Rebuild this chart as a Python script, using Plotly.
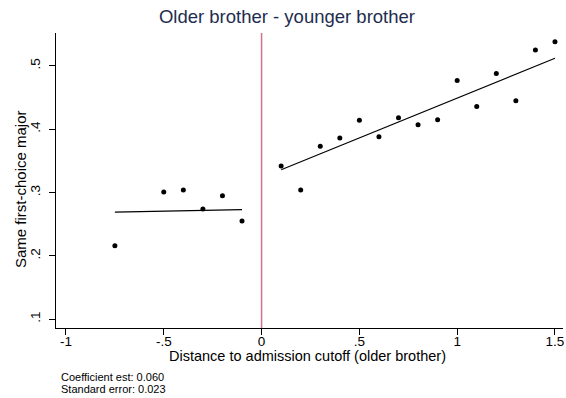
import plotly.graph_objects as go

# binned means
bin_x_left = [-0.75, -0.5, -0.4, -0.3, -0.2, -0.1]
bin_y_left = [0.216, 0.301, 0.304, 0.274, 0.295, 0.255]
bin_x_right = [0.1, 0.2, 0.3, 0.4, 0.5, 0.6, 0.7, 0.8, 0.9, 1.0, 1.1, 1.2, 1.3, 1.4, 1.5]
bin_y_right = [0.342, 0.304, 0.373, 0.386, 0.414, 0.388, 0.418, 0.407, 0.415,
               0.477, 0.436, 0.488, 0.445, 0.525, 0.538]

# fitted lines on each side of the cutoff
fit_x_left = [-0.75, -0.1]
fit_y_left = [0.269, 0.273]
fit_x_right = [0.1, 1.5]
fit_y_right = [0.336, 0.512]

x_ticks = [-1, -0.5, 0, 0.5, 1, 1.5]
x_labels = ["-1", "-.5", "0", ".5", "1", "1.5"]
y_ticks = [0.1, 0.2, 0.3, 0.4, 0.5]
y_labels = [".1", ".2", ".3", ".4", ".5"]

notes = ["Coefficient est: 0.060", "Standard error: 0.023"]

fig = go.Figure()
for bx, by in [(bin_x_left, bin_y_left), (bin_x_right, bin_y_right)]:
    fig.add_trace(go.Scatter(x=bx, y=by, mode="markers", cliponaxis=False,
                             marker=dict(color="black", size=5), showlegend=False))
for fx, fy in [(fit_x_left, fit_y_left), (fit_x_right, fit_y_right)]:
    fig.add_trace(go.Scatter(x=fx, y=fy, mode="lines",
                             line=dict(color="black", width=1.1), showlegend=False))

fig.add_shape(type="line", x0=0, x1=0, y0=0, y1=1, xref="x", yref="paper",
              line=dict(color="#d8708a", width=1.5))

fig.update_layout(
    width=566, height=398,
    margin=dict(l=56, r=3, t=33, b=70),
    plot_bgcolor="white", paper_bgcolor="white",
    font=dict(family="Liberation Sans, Arial, sans-serif", color="black", size=13),
    title=dict(text="Older brother - younger brother", x=0.507, xanchor="center",
               y=0.958, yanchor="middle", automargin=False,
               font=dict(size=18.5, color="#1e2d4f")),
    xaxis=dict(range=[-1.051, 1.541], tickvals=x_ticks, ticktext=x_labels,
               automargin=False, ticklabeloverflow="allow",
               showgrid=False, zeroline=False, showline=True, linecolor="black",
               linewidth=1, ticks="outside", ticklen=6, tickcolor="black",
               ticklabelstandoff=-5, tickfont=dict(size=13.5)),
    yaxis=dict(range=[0.086, 0.552], tickvals=y_ticks, ticktext=y_labels,
               automargin=False,
               showgrid=False, zeroline=False, showline=True, linecolor="black",
               linewidth=1, ticks="outside", ticklen=6, tickcolor="black",
               ticklabelstandoff=4, tickangle=-90, tickfont=dict(size=13.5)),
)

fig.add_annotation(text="Distance to admission cutoff (older brother)",
                   xref="paper", yref="paper", x=0.497, y=-0.095,
                   xanchor="center", yanchor="middle", showarrow=False,
                   font=dict(size=14.5))
fig.add_annotation(text="Same first-choice major", textangle=-90,
                   xref="paper", yref="paper", x=-0.071, y=0.471,
                   xanchor="center", yanchor="middle", showarrow=False,
                   font=dict(size=15))
for i, note in enumerate(notes):
    fig.add_annotation(text=note, xref="paper", yref="paper",
                       x=0.006, y=-0.166 - 0.041 * i,
                       xanchor="left", yanchor="middle", showarrow=False,
                       font=dict(size=11))

# drop the page's default body margin so the figure fills the window exactly
fig.write_html("out.html", config={"displayModeBar": False},
               post_script="document.body.style.margin='0';"
                           "document.body.style.overflow='hidden';")
